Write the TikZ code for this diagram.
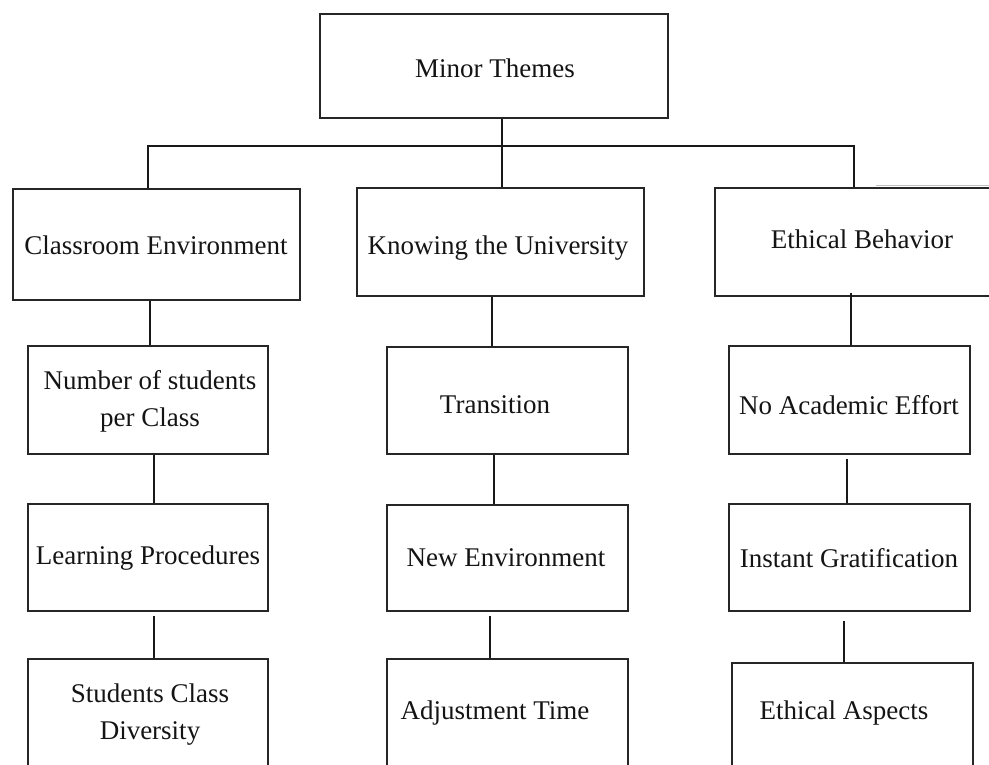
\documentclass[tikz,border=0pt]{standalone}
\usepackage{fontspec}
\setmainfont{Liberation Serif}
\usetikzlibrary{calc}
\begin{document}
\begin{tikzpicture}[x=1pt,y=-1pt,
  box/.style={draw=black!85, line width=1.8pt, inner sep=0pt, fill=none},
  txt/.style={inner sep=0pt, align=center, font=\fontsize{27}{37}\selectfont, text=black!92},
  conn/.style={draw=black!90, line width=1.3pt}]
\useasboundingbox (0,0) rectangle (989,765);
\clip (0,0) rectangle (989,765);
% boxes
\node[box, minimum width=348pt, minimum height=104pt] (top) at (494,66) {};
\node[box, minimum width=287pt, minimum height=111pt] (ce) at (156.5,244.5) {};
\node[box, minimum width=287pt, minimum height=108pt] (ku) at (500.5,242) {};
\node[box, minimum width=285pt, minimum height=108pt] (eb) at (857.5,242) {};
\node[box, minimum width=240pt, minimum height=108pt] (r2l) at (148,400) {};
\node[box, minimum width=241pt, minimum height=107pt] (r2m) at (507.5,400.5) {};
\node[box, minimum width=241pt, minimum height=108pt] (r2r) at (849.5,400) {};
\node[box, minimum width=240pt, minimum height=107pt] (r3l) at (148,557.5) {};
\node[box, minimum width=241pt, minimum height=106pt] (r3m) at (507.5,558) {};
\node[box, minimum width=241pt, minimum height=107pt] (r3r) at (849.5,557.5) {};
\node[box, minimum width=240pt, minimum height=112pt] (r4l) at (148,715) {};
\node[box, minimum width=241pt, minimum height=112pt] (r4m) at (507.5,715) {};
\node[box, minimum width=241pt, minimum height=108pt] (r4r) at (852.5,717) {};
% faint stray edge above Ethical Behavior
\draw[black!25, line width=1pt] (876,186) -- (995,186);
% texts
\node[txt] (ttop) at (495,68) {Minor Themes};
\node[txt] (tce) at (156,245) {Classroom Environment};
\node[txt] (tku) at (498,248) {Knowing the University};
\node[txt] (teb) at (862,239) {Ethical Behavior};
\node[txt] (t2l) at (150,401) {Number of students\\per Class};
\node[txt] (t2m) at (495,405) {Transition};
\node[txt] (t2r) at (849,405) {No Academic Effort};
\node[txt] (t3l) at (148,558) {Learning Procedures};
\node[txt] (t3m) at (506,558) {New Environment};
\node[txt] (t3r) at (849,558) {Instant Gratification};
\node[txt] (t4l) at (150,715) {Students Class\\Diversity};
\node[txt] (t4m) at (495,713) {Adjustment Time};
\node[txt] (t4r) at (844,713) {Ethical Aspects};
% connector x positions
\coordinate (j) at (502,146);
\coordinate (xl) at (148,146);
\coordinate (xr) at (854,146);
\coordinate (a1) at (150,0);
\coordinate (a2) at (154,0);
\coordinate (b1) at (492,0);
\coordinate (b2) at (494,0);
\coordinate (b3) at (490,0);
\coordinate (c1) at (851,0);
\coordinate (c2) at (847,0);
\coordinate (c3) at (844,0);
% tree connectors
\draw[conn] (top.south -| j) -- (j);
\draw[conn] (ce.north -| xl) -- (xl) -- (xr) -- (eb.north -| xr);
\draw[conn] (j) -- (ku.north -| j);
% left column
\draw[conn] (ce.south -| a1) -- (r2l.north -| a1);
\draw[conn] (r2l.south -| a2) -- (r3l.north -| a2);
\draw[conn] ($(r3l.south -| a2)+(0,4)$) -- (r4l.north -| a2);
% middle column
\draw[conn] (ku.south -| b1) -- (r2m.north -| b1);
\draw[conn] (r2m.south -| b2) -- (r3m.north -| b2);
\draw[conn] ($(r3m.south -| b3)+(0,4)$) -- (r4m.north -| b3);
% right column
\draw[conn] ($(eb.south -| c1)+(0,-4)$) -- (r2r.north -| c1);
\draw[conn] ($(r2r.south -| c2)+(0,4)$) -- (r3r.north -| c2);
\draw[conn] ($(r3r.south -| c3)+(0,9)$) -- (r4r.north -| c3);
\end{tikzpicture}
\end{document}
